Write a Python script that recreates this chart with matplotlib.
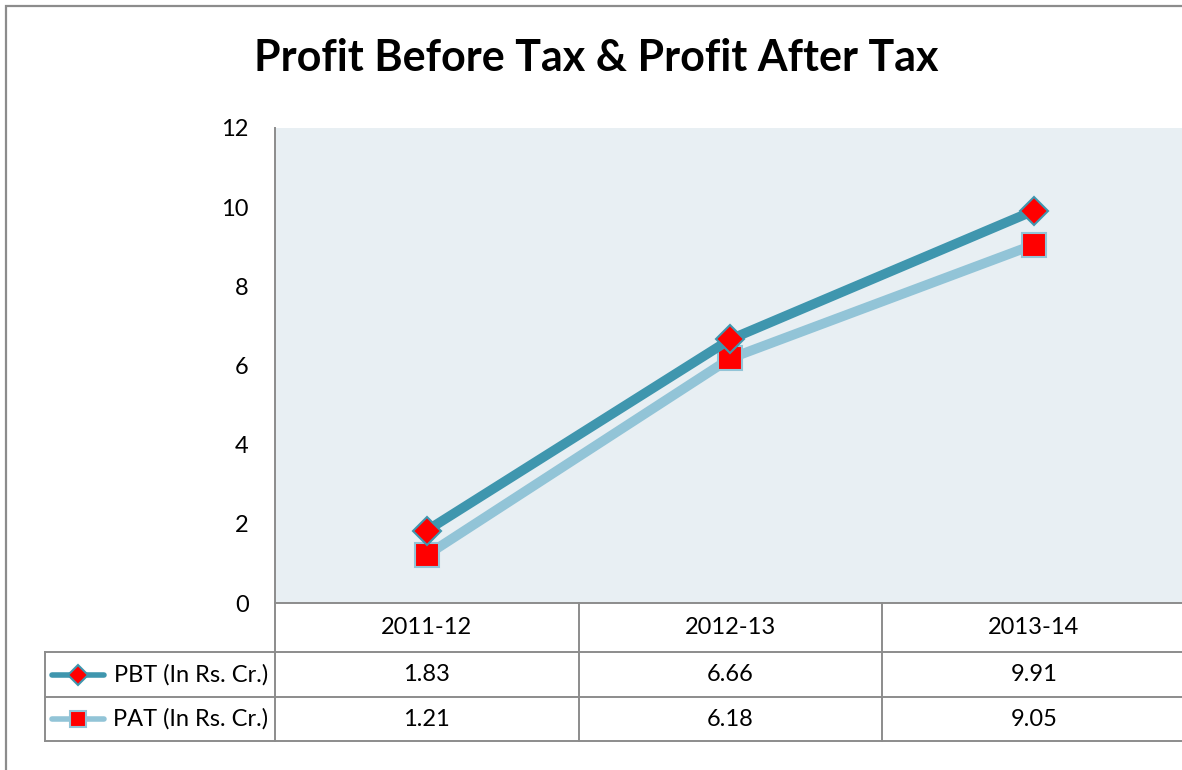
import matplotlib
matplotlib.use('Agg')
import matplotlib.pyplot as plt
from matplotlib.patches import Rectangle

plt.rcParams['font.family'] = ['Lato', 'DejaVu Sans']

# 데이터
years = ['2011-12', '2012-13', '2013-14']
pbt = [1.83, 6.66, 9.91]
pat = [1.21, 6.18, 9.05]
pbt_label = 'PBT (In Rs. Cr.)'
pat_label = 'PAT (In Rs. Cr.)'
title = 'Profit Before Tax & Profit After Tax'

pbt_color = '#3F96AE'
pat_color = '#92C4D7'
grid_color = '#8C8C8C'
fs = 17

W, H = 1182, 770
fig = plt.figure(figsize=(W / 100, H / 100), dpi=100)

# 외곽 테두리
fig.patches.append(Rectangle((6 / W, -0.1), 1.2, (H - 6) / H + 0.1, transform=fig.transFigure,
                             fill=False, edgecolor='#8C8C8C', linewidth=1.6))

# 플롯 영역 (오른쪽은 잘려 있음)
left, right, top, bottom = 275, 275 + 3 * 303.5, 128, 603
ax = fig.add_axes([left / W, (H - bottom) / H, (right - left) / W, (bottom - top) / H])
ax.set_facecolor('#E8EFF3')
ax.set_xlim(0, 3)
ax.set_ylim(0, 12)
ax.set_yticks(range(0, 13, 2))
ax.set_xticks([])
ax.tick_params(axis='y', length=0, labelsize=fs, pad=19)
for s in ['top', 'right']:
    ax.spines[s].set_visible(False)
for s in ['left', 'bottom']:
    ax.spines[s].set_color(grid_color)
    ax.spines[s].set_linewidth(1.4)

x = [i + 0.5 for i in range(len(years))]
ax.plot(x, pat, color=pat_color, linewidth=7, marker='s', markersize=17,
        markerfacecolor='red', markeredgecolor=pat_color, markeredgewidth=1.5, zorder=3)
ax.plot(x, pbt, color=pbt_color, linewidth=7, marker='D', markersize=14,
        markerfacecolor='red', markeredgecolor=pbt_color, markeredgewidth=1.5, zorder=4)

fig.text(596 / W, 1 - 58 / H, title, ha='center', va='center', fontsize=31, fontweight='bold')

# 데이터 테이블
px_y = 12 / (bottom - top)   # 픽셀 -> y 데이터
px_x = 1 / 303.5             # 픽셀 -> x 데이터
rows = [0, -49 * px_y, -94 * px_y, -138 * px_y]
x_leg = (45 - left) * px_x
lk = dict(color=grid_color, linewidth=1.4, clip_on=False)

for r in rows[1:]:
    ax.plot([x_leg, 3.2], [r, r], **lk)
ax.plot([x_leg, x_leg], [rows[1], rows[3]], **lk)
for i in range(1, 4):
    ax.plot([i, i], [rows[0], rows[3]], **lk)
ax.plot([0, 0], [rows[0], rows[3]], **lk)

for i, yr in enumerate(years):
    ax.text(x[i], (rows[0] + rows[1]) / 2, yr, ha='center', va='center', fontsize=fs)
    ax.text(x[i], (rows[1] + rows[2]) / 2, f'{pbt[i]:.2f}', ha='center', va='center', fontsize=fs)
    ax.text(x[i], (rows[2] + rows[3]) / 2, f'{pat[i]:.2f}', ha='center', va='center', fontsize=fs)

# 범례 키
for (r0, r1), lab, col, mk, ms in [((rows[1], rows[2]), pbt_label, pbt_color, 'D', 10),
                                   ((rows[2], rows[3]), pat_label, pat_color, 's', 12)]:
    yc = (r0 + r1) / 2
    ax.plot([(52 - left) * px_x, (104 - left) * px_x], [yc, yc], color=col, linewidth=4,
            solid_capstyle='round', clip_on=False)
    ax.plot([(78 - left) * px_x], [yc], marker=mk, markersize=ms, markerfacecolor='red',
            markeredgecolor=col, markeredgewidth=1.5, clip_on=False)
    ax.text((268 - left) * px_x, yc, lab, ha='right', va='center', fontsize=fs)

fig.savefig('out.png', dpi=100)
